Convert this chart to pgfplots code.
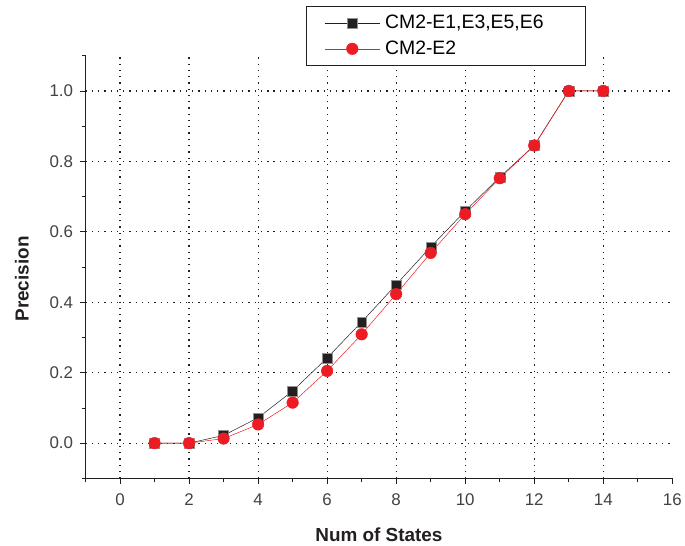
\documentclass[border=0pt]{standalone}
\usepackage{fontspec}
\setmainfont{Liberation Sans}
\usepackage{pgfplots}
\pgfplotsset{compat=1.18}
\definecolor{myred}{RGB}{237,28,36}
\definecolor{myblack}{RGB}{35,31,32}
\begin{document}
\begin{tikzpicture}
\begin{axis}[
  name=ax,
  width=590pt, height=425pt, scale only axis,
  xmin=-1, xmax=16, ymin=-0.1, ymax=1.1,
  axis x line*=bottom, axis y line*=left,
  axis line style={-, line width=0.8pt, myblack},
  xtick={0,2,...,14}, extra x ticks={16}, extra x tick style={grid=none},
  minor xtick={-1,1,...,15},
  ytick={0,0.2,...,1.0},
  minor ytick={-0.1,0.1,0.3,0.5,0.7,0.9,1.1},
  tick align=outside,
  major tick length=6pt, minor tick length=4pt,
  every tick/.style={line width=0.8pt, myblack},
  xmajorgrids, ymajorgrids,
  major grid style={myblack, line width=1.2pt, dash pattern=on 1.3pt off 5pt},
  yticklabel style={/pgf/number format/fixed, /pgf/number format/fixed zerofill, /pgf/number format/precision=1},
  /pgf/number format/assume math mode=true,
  tick label style={font=\fontsize{17}{19}\selectfont, text=myblack!85},
  xticklabel style={yshift=-6pt},
  yticklabel style={xshift=-3pt},
  xlabel={\textbf{Num of States}},
  ylabel={\textbf{Precision}},
  label style={font=\fontsize{19}{21}\selectfont, text=myblack},
  xlabel style={yshift=-3pt},
  ylabel style={yshift=14pt, xshift=-12pt},
  legend style={at={(rel axis cs:0.376,1.1176)}, anchor=north west,
    draw=myblack, line width=0.8pt, font=\fontsize{19.5}{22}\selectfont,
    inner xsep=18pt, inner ysep=7pt, row sep=7pt,
    legend cell align=left},
  legend image code/.code={
    \draw[#1] (0cm,0cm) -- (1.95cm,0cm);
    \draw[#1, mark repeat=1, mark phase=1] plot coordinates {(0.975cm,0cm)};
  },
  clip=false,
]
\addplot[myblack, line width=0.5pt, mark=square*, mark size=5pt,
  mark options={fill=myblack, draw=myblack!50, line width=0.3pt}]
  coordinates {(1,0) (2,0) (3,0.022) (4,0.072) (5,0.148) (6,0.242) (7,0.344) (8,0.45) (9,0.557) (10,0.659) (11,0.755) (12,0.845) (13,1.0) (14,1.0)};
\addlegendentry{\hspace*{3pt}CM2-E1,E3,E5,E6\hspace*{22pt}}
\addplot[myred, line width=0.5pt, mark=*, mark size=5.8pt,
  mark options={fill=myred, draw=myred}]
  coordinates {(1,0) (2,0) (3,0.013) (4,0.053) (5,0.115) (6,0.205) (7,0.309) (8,0.423) (9,0.54) (10,0.65) (11,0.752) (12,0.845) (13,1.0) (14,1.0)};
\addlegendentry{\hspace*{3pt}CM2-E2}
\end{axis}
\path (ax.south west) ++(-86pt,-68pt) rectangle ++(685pt,549pt);
\end{tikzpicture}
\end{document}
